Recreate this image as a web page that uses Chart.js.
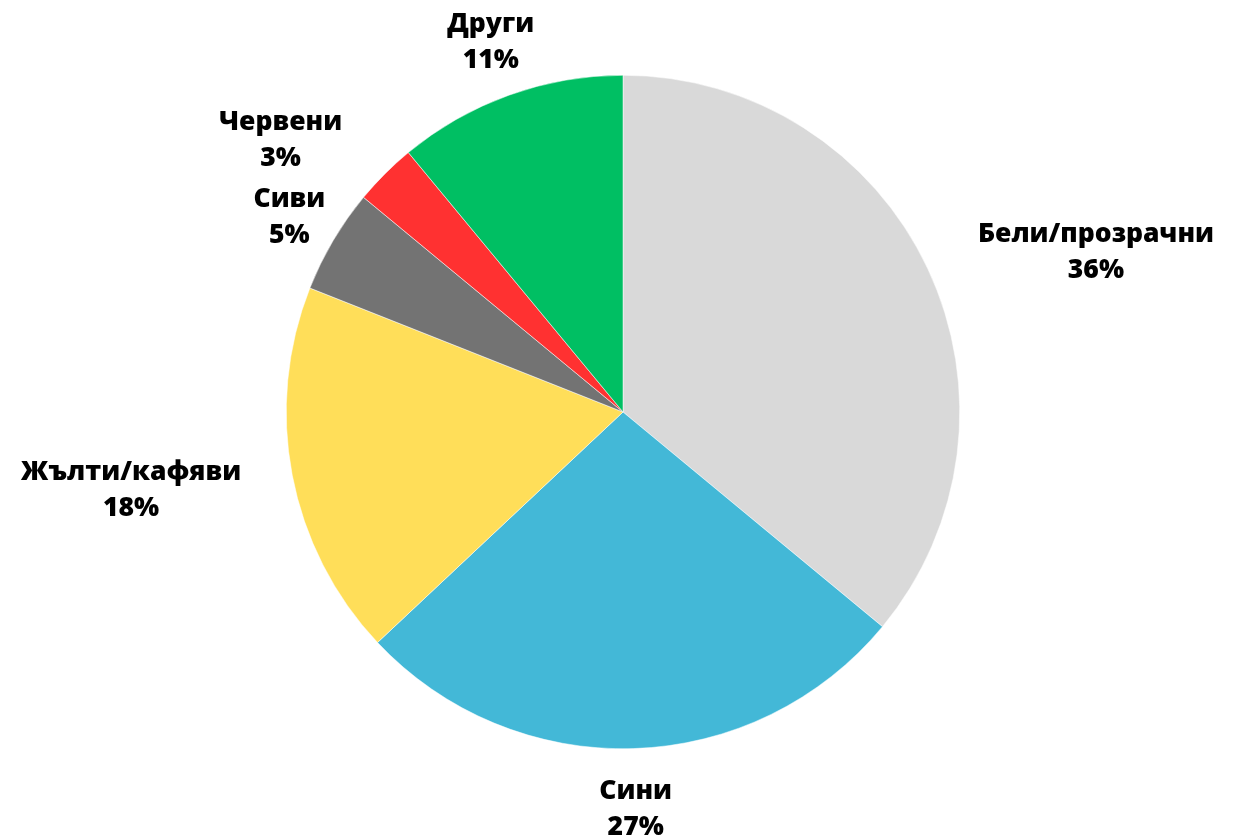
<!DOCTYPE html>
<html>
<head>
<meta charset="utf-8">
<script src="https://cdn.jsdelivr.net/npm/chart.js@4"></script>
<style>
  html, body { margin: 0; padding: 0; background: #fff; }
  #wrap { width: 1235px; height: 840px; }
</style>
</head>
<body>
<div id="wrap"><canvas id="pieChart" width="1235" height="840"></canvas></div>
<script>
// Дані
const labels = ["Бели/прозрачни", "Сини", "Жълти/кафяви", "Сиви", "Червени", "Други"];
const values = [36, 27, 18, 5, 3, 11];
const colors = ["#d9d9d9", "#43b8d7", "#ffde59", "#737373", "#ff3131", "#00bf63"];
// відступ підпису від краю сектора та невеликий поворот (градуси)
const labelGap = [56, 31, 54, 15, 52, 24];
const labelTurn = [3, 0, 0, 0, -4.5, 0.7];

const FONT = "800 26.5px 'Open Sans'";
const LINE = 36;

// Підписи зовні секторів
const outsideLabels = {
    id: "outsideLabels",
    afterDatasetsDraw(chart) {
        const ctx = chart.ctx;
        const meta = chart.getDatasetMeta(0);
        const total = values.reduce((a, b) => a + b, 0);
        ctx.save();
        ctx.font = FONT;
        ctx.fillStyle = "#000";
        ctx.textAlign = "center";
        ctx.textBaseline = "middle";
        meta.data.forEach((arc, i) => {
            const { x, y, startAngle, endAngle, outerRadius } = arc.getProps(["x", "y", "startAngle", "endAngle", "outerRadius"], true);
            const mid = (startAngle + endAngle) / 2 + labelTurn[i] * Math.PI / 180;
            const cos = Math.cos(mid), sin = Math.sin(mid);
            const line1 = labels[i];
            const line2 = Math.round(values[i] / total * 100) + "%";
            const w = Math.max(ctx.measureText(line1).width, ctx.measureText(line2).width);
            const h = LINE + 24;
            const r = outerRadius + labelGap[i];
            const cx = x + cos * r + cos * w / 2;
            const cy = y + sin * r + sin * h / 2;
            ctx.fillText(line1, cx, cy - LINE / 2);
            ctx.fillText(line2, cx, cy + LINE / 2);
        });
        ctx.restore();
    }
};

const ctx = document.getElementById("pieChart").getContext("2d");

document.fonts.load(FONT).then(() => {
    new Chart(ctx, {
        type: "pie",
        plugins: [outsideLabels],
        data: {
            labels: labels,
            datasets: [{
                data: values,
                backgroundColor: colors,
                borderColor: "#ffffff",
                borderWidth: 0.5
            }]
        },
        options: {
            responsive: false,
            animation: false,
            layout: { padding: { top: 75, bottom: 91, left: 11, right: 0 } },
            plugins: {
                legend: { display: false },
                tooltip: { enabled: false }
            }
        }
    });
});
</script>
</body>
</html>
